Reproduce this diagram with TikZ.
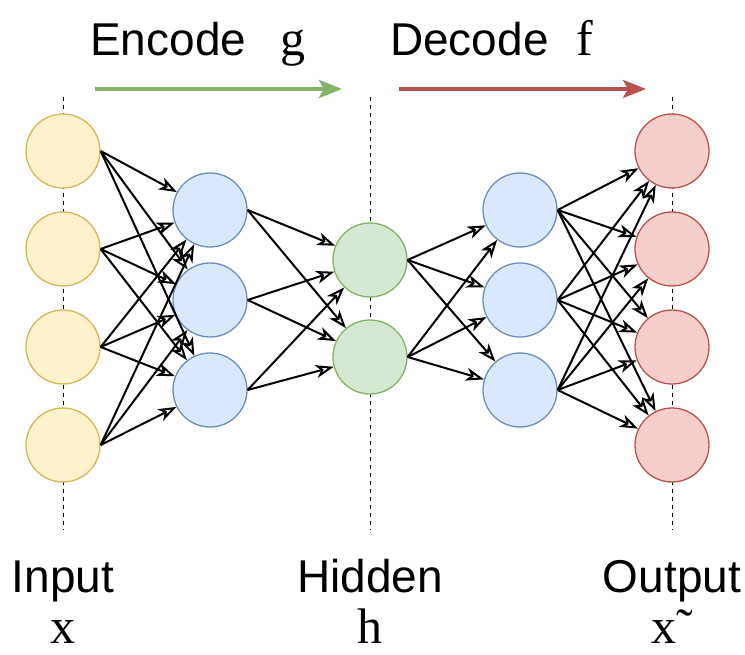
\documentclass[tikz,border=0pt]{standalone}
\usepackage{fontspec}
\newfontfamily\labelsans{Liberation Sans}
\newfontfamily\labelserif{Liberation Serif}
\usetikzlibrary{arrows.meta}

\definecolor{inFill}{HTML}{FFF2CC}
\definecolor{inLine}{HTML}{D6B656}
\definecolor{midFill}{HTML}{DAE8FC}
\definecolor{midLine}{HTML}{6C8EBF}
\definecolor{hidFill}{HTML}{D5E8D4}
\definecolor{hidLine}{HTML}{82B366}
\definecolor{outFill}{HTML}{F8CECC}
\definecolor{outLine}{HTML}{B85450}

\begin{document}
\begin{tikzpicture}[x=1pt, y=-1pt,
    neuron/.style={circle, line width=1.3pt, minimum size=74pt, inner sep=0pt},
    edge/.style={line width=2pt, -{Stealth[open, length=18pt, width=13pt, inset=5pt]}},
    flow/.style={line width=3.5pt, -{Stealth[length=23pt, width=18pt, inset=5pt]}},
    guide/.style={dashed, line width=0.9pt, dash pattern=on 4pt off 4pt},
    word/.style={anchor=base, inner sep=0pt, font=\labelsans\fontsize{46}{50}\selectfont},
    sym/.style={anchor=base, inner sep=0pt, font=\labelserif\fontsize{50}{54}\selectfont}]
    \useasboundingbox (0,0) rectangle (745,655);

    % --- 1. Layer columns ---
    \def\xIn{63}
    \def\xEn{210}
    \def\xHid{370}
    \def\xDe{520}
    \def\xOut{672}

    \draw[guide] (\xIn,97) -- (\xIn,530);
    \draw[guide] (\xHid,97) -- (\xHid,530);
    \draw[guide] (\xOut,97) -- (\xOut,530);

    % --- 2. Neurons ---
    \node[neuron, draw=inLine, fill=inFill] (in1) at (\xIn,151) {};
    \node[neuron, draw=inLine, fill=inFill] (in2) at (\xIn,249) {};
    \node[neuron, draw=inLine, fill=inFill] (in3) at (\xIn,347) {};
    \node[neuron, draw=inLine, fill=inFill] (in4) at (\xIn,445) {};

    \node[neuron, draw=midLine, fill=midFill] (en1) at (\xEn,210) {};
    \node[neuron, draw=midLine, fill=midFill] (en2) at (\xEn,300) {};
    \node[neuron, draw=midLine, fill=midFill] (en3) at (\xEn,390) {};

    \node[neuron, draw=hidLine, fill=hidFill] (hid1) at (\xHid,260) {};
    \node[neuron, draw=hidLine, fill=hidFill] (hid2) at (\xHid,357) {};

    \node[neuron, draw=midLine, fill=midFill] (de1) at (\xDe,210) {};
    \node[neuron, draw=midLine, fill=midFill] (de2) at (\xDe,300) {};
    \node[neuron, draw=midLine, fill=midFill] (de3) at (\xDe,390) {};

    \node[neuron, draw=outLine, fill=outFill] (out1) at (\xOut,151) {};
    \node[neuron, draw=outLine, fill=outFill] (out2) at (\xOut,249) {};
    \node[neuron, draw=outLine, fill=outFill] (out3) at (\xOut,347) {};
    \node[neuron, draw=outLine, fill=outFill] (out4) at (\xOut,445) {};

    % --- 3. Full connections between layers ---
    \foreach \i in {1,...,4}
        \foreach \j in {1,2,3}
            \draw[edge] (in\i.east) -- (en\j);
    \foreach \i in {1,2,3}
        \foreach \j in {1,2}
            \draw[edge] (en\i.east) -- (hid\j);
    \foreach \i in {1,2}
        \foreach \j in {1,2,3}
            \draw[edge] (hid\i.east) -- (de\j);
    \foreach \i in {1,2,3}
        \foreach \j in {1,...,4}
            \draw[edge] (de\i.east) -- (out\j);

    % --- 4. Encoder / decoder titles ---
    \node[word, anchor=base west] (enc) at (90,56) {Encode};
    \node[sym, anchor=base west] (g) at (280,56) {g};
    \node[word, anchor=base west] (dec) at (390,56) {Decode};
    \node[sym, anchor=base west] (f) at (576,56) {f};

    \coordinate (encA) at (95,89);
    \coordinate (encB) at (342,89);
    \coordinate (decA) at (399,89);
    \coordinate (decB) at (646,89);
    \draw[flow, hidLine] (encA) -- (encB);
    \draw[flow, outLine] (decA) -- (decB);

    % --- 5. Layer names ---
    \node[word] (inName) at (\xIn,592) {Input};
    \node[word] (hidName) at (\xHid,592) {Hidden};
    \node[word] (outName) at (\xOut,592) {Output};

    \node[sym] (xIn) at (\xIn,643) {x};
    \node[sym] (hVec) at (\xHid,643) {h};
    \node[sym] (xOut) at (\xOut,643) {x˜};
\end{tikzpicture}
\end{document}
